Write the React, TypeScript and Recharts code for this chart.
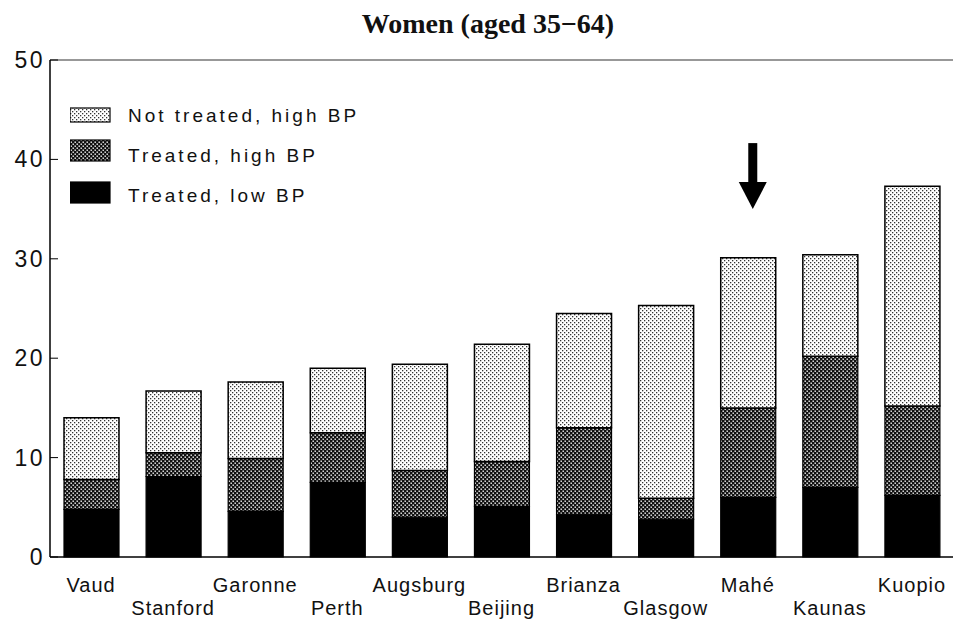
import React from 'react';
import { BarChart, Bar, XAxis, YAxis, Legend, ReferenceLine, ReferenceDot } from 'recharts';

// (percent of women)
const centres = ['Vaud', 'Stanford', 'Garonne', 'Perth', 'Augsburg', 'Beijing', 'Brianza', 'Glasgow', 'Mahé', 'Kaunas', 'Kuopio'];
const treatedLow = [4.8, 8.1, 4.6, 7.5, 4.0, 5.1, 4.3, 3.8, 6.0, 7.0, 6.2];
const treatedHigh = [3.0, 2.4, 5.3, 5.0, 4.7, 4.5, 8.7, 2.1, 9.0, 13.2, 9.0];
const notTreated = [6.2, 6.2, 7.7, 6.5, 10.7, 11.8, 11.5, 19.4, 15.1, 10.2, 22.1];
const yTicks = [0, 10, 20, 30, 40, 50];

const chartData = centres.map((name, i) => ({
  name,
  low: treatedLow[i],
  high: treatedHigh[i],
  notTreated: notTreated[i],
}));

const sans = '"Liberation Sans", Arial, sans-serif';

const Patterns = () => (
  <defs>
    <pattern id="ptLight" width="4" height="4" patternUnits="userSpaceOnUse">
      <rect width="4" height="4" fill="#fff" />
      <rect x="0" y="0" width="1.3" height="1.3" fill="#333" />
      <rect x="2" y="2" width="1.3" height="1.3" fill="#333" />
    </pattern>
    <pattern id="ptDark" width="4" height="4" patternUnits="userSpaceOnUse">
      <rect width="4" height="4" fill="#111" />
      <rect x="0.5" y="0.5" width="1.4" height="1.4" fill="#fff" />
      <rect x="2.5" y="2.5" width="1.4" height="1.4" fill="#fff" />
    </pattern>
  </defs>
);

// labels alternate between two rows
const XTick = (props: any) => {
  const { x, y, payload, index } = props;
  const dy = index % 2 === 1 ? 58 : 35;
  return (
    <text x={x} y={y + dy} textAnchor="middle" fontFamily={sans} fontSize={20} letterSpacing={1} fill="#111">
      {payload.value}
    </text>
  );
};

const YTick = (props: any) => {
  const { x, y, payload } = props;
  return (
    <text x={x} y={y + 8} textAnchor="end" fontFamily={sans} fontSize={23} letterSpacing={2.5} fill="#111">
      {payload.value}
    </text>
  );
};

const Arrow = (props: any) => {
  const { cx, cy } = props;
  const x = cx + 5;
  return (
    <g fill="#000">
      <rect x={x - 4.5} y={cy - 66} width={9} height={40} />
      <polygon points={`${x - 14},${cy - 27} ${x + 14},${cy - 27} ${x},${cy}`} />
    </g>
  );
};

const legendRows = [
  { label: 'Not treated, high BP', fill: 'url(#ptLight)', y: 3, h: 14, base: 17 },
  { label: 'Treated, high BP', fill: 'url(#ptDark)', y: 35, h: 21, base: 57 },
  { label: 'Treated, low BP', fill: '#000', y: 77, h: 21, base: 97 },
];

const LegendBox = () => (
  <svg width={320} height={110}>
    {legendRows.map((r) => (
      <g key={r.label}>
        <rect x={0} y={r.y} width={40} height={r.h} fill={r.fill} stroke="#000" strokeWidth={1.2} />
        <text x={58} y={r.base} fontFamily={sans} fontSize={19} letterSpacing={3} fill="#111">
          {r.label}
        </text>
      </g>
    ))}
  </svg>
);

export default function App() {
  return (
    <div style={{ position: 'absolute', left: 0, top: 0, width: 954, height: 622, background: '#fff' }}>
      <div
        style={{
          position: 'absolute',
          left: 288,
          top: 10,
          width: 400,
          textAlign: 'center',
          fontFamily: '"Liberation Serif", "Times New Roman", serif',
          fontWeight: 'bold',
          fontSize: 28,
          lineHeight: '28px',
          color: '#111',
        }}
      >
        Women (aged 35−64)
      </div>
      <BarChart width={954} height={622} data={chartData} margin={{ top: 60, right: 1, left: 0, bottom: 5 }}>
        <Patterns />
        <XAxis
          dataKey="name"
          interval={0}
          tick={<XTick />}
          tickLine={false}
          tickSize={0}
          tickMargin={0}
          height={60}
          axisLine={{ stroke: '#000', strokeWidth: 1.5 }}
        />
        <YAxis
          width={50}
          domain={[0, 50]}
          ticks={yTicks}
          tick={<YTick />}
          tickSize={-8}
          tickMargin={13}
          tickLine={{ stroke: '#000', strokeWidth: 1 }}
          axisLine={{ stroke: '#000', strokeWidth: 1.5 }}
        />
        <ReferenceLine y={50} stroke="#333" strokeWidth={1.2} />
        <Legend
          content={<LegendBox />}
          layout="horizontal"
          verticalAlign="middle"
          align="center"
          wrapperStyle={{ left: 70, top: 105, width: 320, height: 110 }}
        />
        <Bar dataKey="low" stackId="a" barSize={55} fill="#000" stroke="#000" strokeWidth={1.2} isAnimationActive={false} />
        <Bar dataKey="high" stackId="a" barSize={55} fill="url(#ptDark)" stroke="#000" strokeWidth={1.2} isAnimationActive={false} />
        <Bar dataKey="notTreated" stackId="a" barSize={55} fill="url(#ptLight)" stroke="#000" strokeWidth={1.5} isAnimationActive={false} />
        <ReferenceDot x="Mahé" y={35} r={0} shape={<Arrow />} />
      </BarChart>
    </div>
  );
}
